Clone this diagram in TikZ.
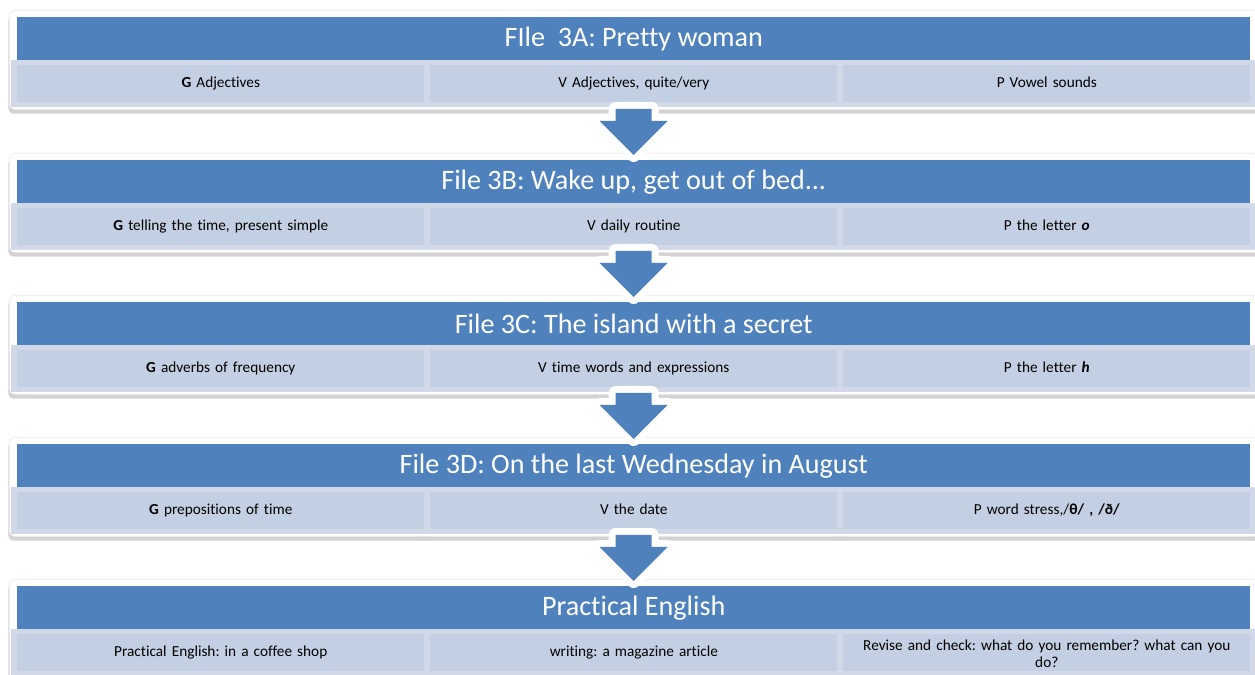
\documentclass[tikz,border=0pt]{standalone}
\usepackage{fontspec}
\setmainfont{Carlito}[Ligatures=NoCommon]
\usetikzlibrary{shadows,calc}
\definecolor{hdr}{HTML}{4F81BD}
\definecolor{cellc}{HTML}{C3CFE2}
\definecolor{stripc}{HTML}{D1D9E8}
\tikzset{
 card/.style={fill=white, draw=black!8, rounded corners=3pt, drop shadow={shadow xshift=-0.6pt, shadow yshift=-2.5pt, opacity=0.35}, minimum width=25.1cm, minimum height=1.98cm, anchor=north west, inner sep=0},
 header/.style={fill=hdr, minimum width=24.66cm, minimum height=0.86cm, anchor=north west, inner sep=0, text=white, font=\fontsize{16}{18}\selectfont},
 strip/.style={fill=stripc, minimum width=24.9cm, minimum height=0.94cm, anchor=north west, inner sep=0},
 cell/.style={fill=cellc, minimum width=8.14cm, minimum height=0.74cm, anchor=north west, inner sep=0, text=black, font=\fontsize{8.7}{10}\selectfont, align=center, text width=8cm, execute at begin node=\strut},
 arrowline/.style={draw=white, line width=0.28cm, line join=round, fill=white, drop shadow={shadow xshift=0pt, shadow yshift=-1.5pt, opacity=0.3}},
 arrowfill/.style={fill=hdr},
}
\newcommand\grp[6]{%
 \node[card] (card#1) at (9,#2-7) {};
 \node[strip] (strip#1) at (11,#2+43) {};
 \node[header] (h#1) at (17,#2) {#3};
 \node[cell] (c#1a) at (17,#2+48) {#4};
 \node[cell] (c#1b) at (430,#2+48) {#5};
 \node[cell] (c#1c) at (843,#2+48) {#6};
}
\newcommand\arr[1]{%
 \coordinate (tip#1) at ($(h#1.north)+(0,-5)$);
 \path[arrowline] (tip#1) -- ++(-34,-34) -- ++(16,0) -- ++(0,-12) -- ++(36,0) -- ++(0,12) -- ++(16,0) -- cycle;
 \path[arrowfill] (tip#1) -- ++(-34,-34) -- ++(16,0) -- ++(0,-12) -- ++(36,0) -- ++(0,12) -- ++(16,0) -- cycle;
}
\begin{document}
\frenchspacing
\begin{tikzpicture}[x=0.02cm,y=-0.02cm]
\useasboundingbox (0,0) rectangle (1255,675);
\fill[white] (0,0) rectangle (1255,675);
\clip (0,0) rectangle (1255,675);
\grp{1}{17}{FIle\ \ 3A: Pretty woman}{\textbf{G} Adjectives}{V Adjectives, quite/very}{P Vowel sounds}
\grp{2}{160}{File 3B: Wake up, get out of bed...}{\textbf{G} telling the time, present simple}{V daily routine}{P the letter \textbf{\textit{o}}}
\grp{3}{302}{File 3C: The island with a secret}{\textbf{G} adverbs of frequency}{V time words and expressions}{P the letter \textbf{\textit{h}}}
\grp{4}{444}{File 3D: On the last Wednesday in August}{\textbf{G} prepositions of time}{V the date}{P word stress,/\textbf{θ/ , /ð/}}
\grp{5}{586}{Practical English}{Practical English: in a coffee shop}{writing: a magazine article}{Revise and check: what do you remember? what can you\\do?}
\arr{2}
\arr{3}
\arr{4}
\arr{5}
\end{tikzpicture}
\end{document}
